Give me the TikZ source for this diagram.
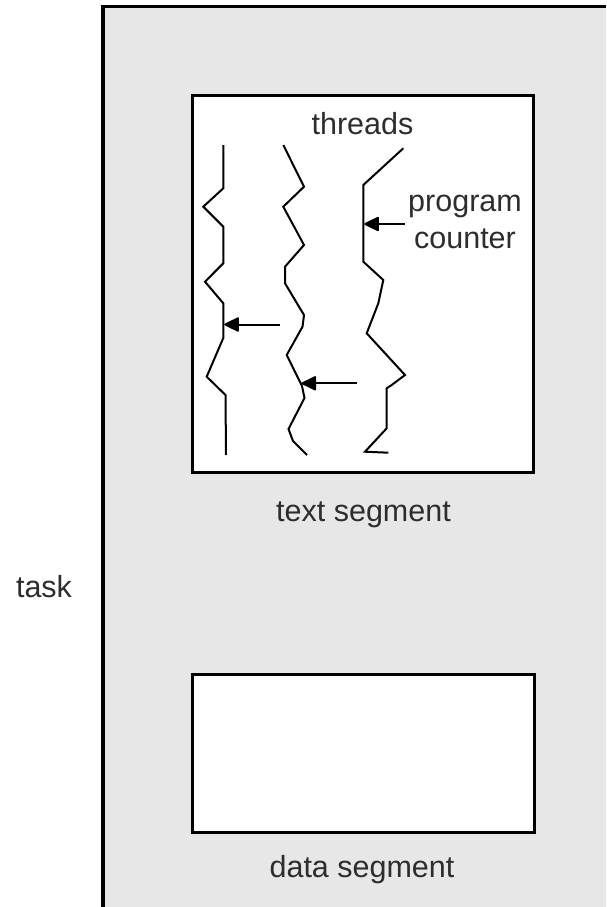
\documentclass[tikz,border=0pt]{standalone}
\usepackage{fontspec}
\setmainfont{Liberation Sans}
\usetikzlibrary{arrows.meta}
\definecolor{taskbg}{RGB}{231,231,231}
\definecolor{labelink}{RGB}{45,45,45}
\tikzset{pctip/.tip={Triangle[length=16pt,width=15pt,round]}}
\begin{document}
\begin{tikzpicture}[x=1pt,y=-1pt,
  segbox/.style={draw=black,line width=3pt,fill=white,inner sep=0pt},
  lbl/.style={text=labelink,font=\fontsize{30.5}{37}\selectfont,inner sep=0pt,anchor=base},
  thread/.style={line width=2pt,line join=miter},
  pcarrow/.style={line width=2pt,arrows={-pctip}}]
\useasboundingbox (0,0) rectangle (606,907);
% task area
\fill[taskbg] (103,6) rectangle (606,907);
\draw[line width=3.5pt] (103,907) -- (103,6.5) -- (606,6.5);
% segments
\node[segbox,minimum width=341pt,minimum height=377pt] (textseg) at (362.5,283.5) {};
\node[segbox,minimum width=342pt,minimum height=158pt] (dataseg) at (363,753) {};
% labels
\node[lbl] (threads) at (362.5,134) {threads};
\node[lbl,align=center] (pc) at (465,248) {program\\counter};
\node[lbl] (textlbl) at (363.5,521) {text segment};
\node[lbl] (datalbl) at (362,877) {data segment};
\node[lbl] (task) at (44,597) {task};
% threads of control
\draw[thread] (223.3,145) -- (223.3,188.3) -- (203.3,206.7) -- (223.3,226.7)
  -- (223.3,263.3) -- (205,281.7) -- (223.3,303.3) -- (223.3,338)
  -- (206.7,376.7) -- (225.5,395) -- (226,455);
\draw[thread] (283.3,145) -- (304,186.7) -- (283.3,206.7) -- (304,245)
  -- (285,266.7) -- (285,283.3) -- (304,315) -- (302.5,326.7) -- (286.7,355)
  -- (302,386) -- (304.5,398) -- (288.5,429) -- (293,441) -- (307,455);
\draw[thread] (403.3,148.3) -- (363.3,185) -- (363.3,261.7)
  -- (383.3,280) -- (378.3,303.3) -- (366.7,333.3) -- (405,375) -- (391.7,385)
  -- (386.7,388.3) -- (386.7,428.3) -- (365,451.7) -- (388.3,452.7);
% program counters
\coordinate (pc1) at (280,324.5);
\coordinate (pc2) at (356.7,383.3);
\coordinate (pc3) at (405,224);
\coordinate (pc1tip) at (224.3,324.5);
\coordinate (pc2tip) at (301.5,383.3);
\coordinate (pc3tip) at (364.3,224);
\draw[pcarrow] (pc1) -- (pc1tip);
\draw[pcarrow] (pc2) -- (pc2tip);
\draw[pcarrow] (pc3) -- (pc3tip);
\end{tikzpicture}
\end{document}
